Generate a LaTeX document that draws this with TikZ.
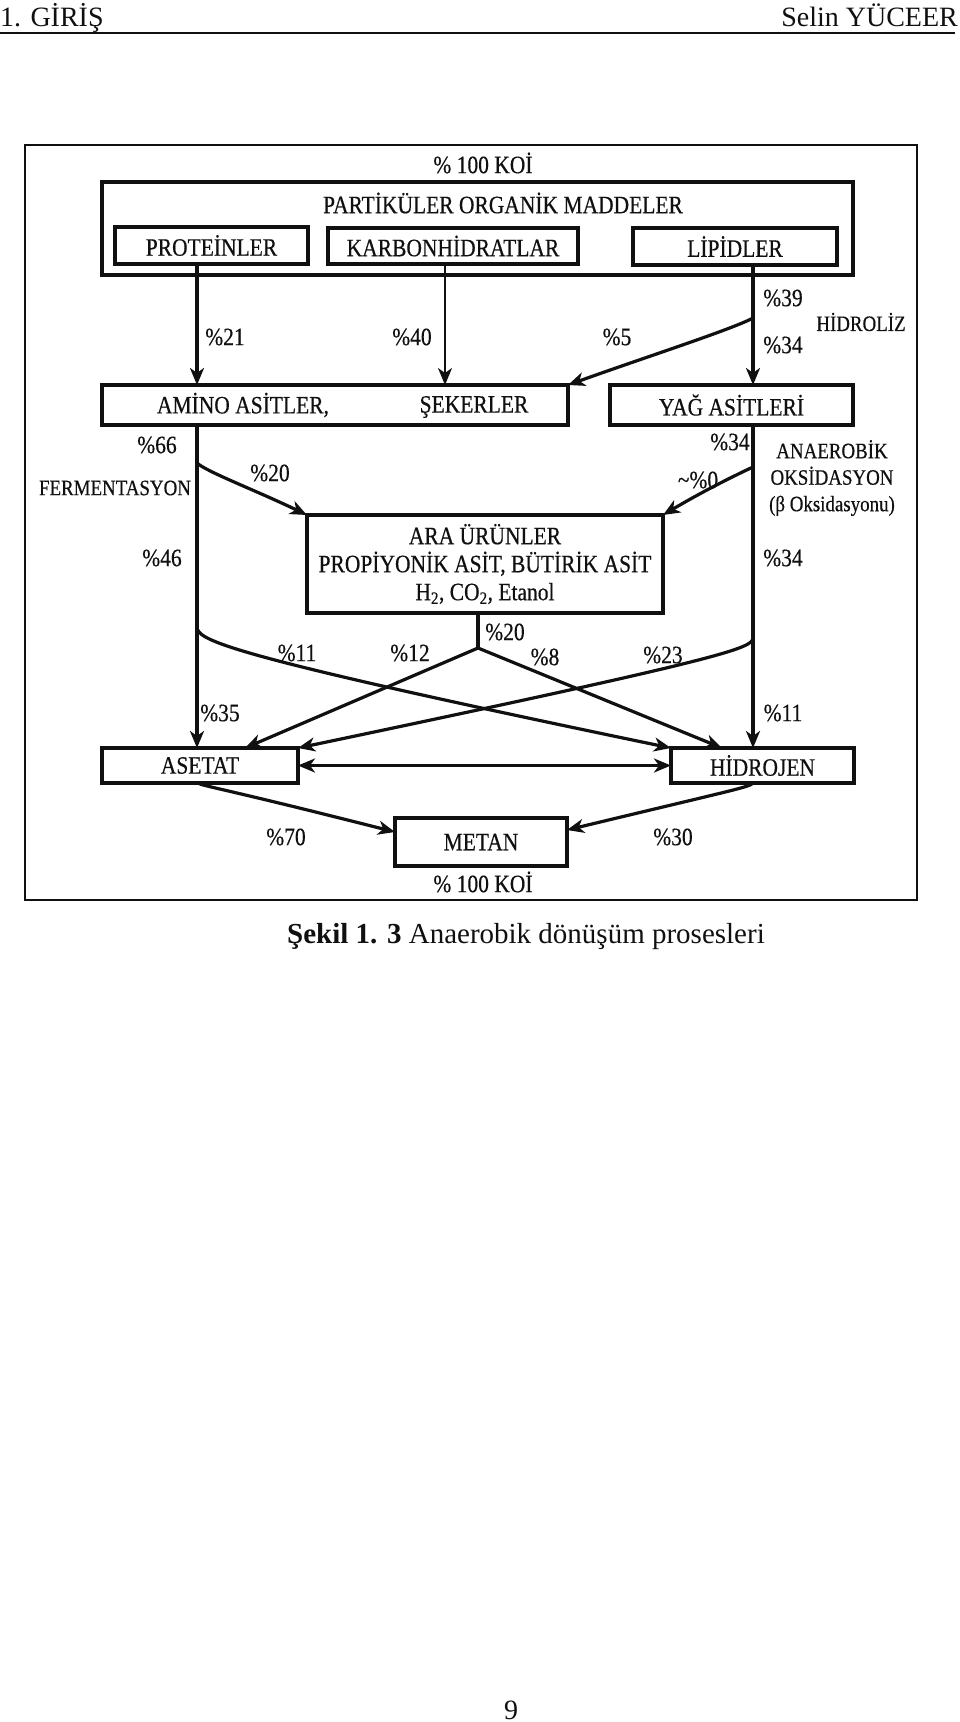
\documentclass[tikz,border=0pt]{standalone}
\usepackage{fontspec}
\setmainfont{Liberation Serif}
\newfontfamily\diagfont[FakeStretch=0.86, FakeBold=0.45]{Liberation Serif}
\usetikzlibrary{arrows.meta}

\definecolor{Ink}{HTML}{101010}

\tikzstyle{page-text}=[font=\fontsize{28}{32}\selectfont, inner sep=0pt, text=Ink]
\tikzstyle{caption-text}=[font=\fontsize{29}{32}\selectfont, inner sep=0pt, text=Ink]
\tikzstyle{diag-text}=[font=\diagfont\fontsize{25}{28}\selectfont, inner sep=0pt, text=Ink]
\tikzstyle{side-text}=[font=\diagfont\fontsize{22}{26.5}\selectfont, inner sep=0pt, text=Ink]
\tikzstyle{diag-box}=[draw=Ink, line width=3.6pt, inner sep=0pt, outer sep=0pt, diag-text]
\tikzstyle{flow}=[draw=Ink, line width=3.2pt, -{Stealth[length=17pt,width=14pt,inset=5pt]}]
\tikzstyle{flow-thin}=[flow, line width=1.6pt]
\tikzstyle{flow-both}=[flow, {Stealth[length=17pt,width=14pt,inset=5pt]}-{Stealth[length=17pt,width=14pt,inset=5pt]}]

\begin{document}
\begin{tikzpicture}[x=1pt, y=-1pt]
  \useasboundingbox (0,0) rectangle (960,1722);
  \fill[white] (0,0) rectangle (960,1722);

  % page head
  \node (head-left) at (0,26) [page-text, anchor=base west] {1. GİRİŞ};
  \node (head-right) at (958,26) [page-text, anchor=base east] {Selin YÜCEER};
  \draw[Ink, line width=1.5pt] (0,33) -- (955,33);

  % frame
  \draw[Ink, line width=2.2pt] (25,145) rectangle (917,900);

  % boxes
  \node (koi-top) at (483,163) [diag-text] {\% 100 KOİ};
  \node (box-partikuler) at (477.5,228.5) [diag-box, minimum width=751pt, minimum height=93pt] {};
  \node (title-partikuler) at (503,203) [diag-text] {PARTİKÜLER ORGANİK MADDELER};
  \node (box-protein) at (211.5,245.5) [diag-box, minimum width=193pt, minimum height=37pt] {PROTEİNLER};
  \node (box-karbon) at (453,246) [diag-box, minimum width=250pt, minimum height=36pt] {KARBONHİDRATLAR};
  \node (box-lipid) at (735,246.5) [diag-box, minimum width=204pt, minimum height=37pt] {LİPİDLER};

  \node (box-amino) at (335,405) [diag-box, minimum width=466pt, minimum height=40pt] {};
  \node (text-amino) at (243,405) [diag-text] {AMİNO ASİTLER,};
  \node (text-seker) at (474,407) [diag-text] {ŞEKERLER};
  \node (box-yag) at (731.5,405) [diag-box, minimum width=243pt, minimum height=40pt] {YAĞ ASİTLERİ};

  \node (box-ara) at (485,564) [diag-box, minimum width=356pt, minimum height=98pt, align=center] {ARA ÜRÜNLER\\PROPİYONİK ASİT, BÜTİRİK ASİT\\H\textsubscript{2}, CO\textsubscript{2}, Etanol};

  \node (box-asetat) at (200,765.5) [diag-box, minimum width=196pt, minimum height=35pt] {ASETAT};
  \node (box-hidrojen) at (762.5,765.5) [diag-box, minimum width=183pt, minimum height=35pt] {HİDROJEN};
  \node (box-metan) at (481,842) [diag-box, minimum width=172pt, minimum height=48pt] {METAN};
  \node (koi-bottom) at (483,882) [diag-text] {\% 100 KOİ};

  % labels
  \node (pct-21) at (225,337) [diag-text] {\%21};
  \node (pct-40) at (412,337) [diag-text] {\%40};
  \node (pct-5) at (617,337) [diag-text] {\%5};
  \node (pct-39) at (783,298) [diag-text] {\%39};
  \node (pct-34a) at (783,345) [diag-text] {\%34};
  \node (hidroliz) at (861,322) [side-text] {HİDROLİZ};
  \node (pct-66) at (157,445) [diag-text] {\%66};
  \node (fermentasyon) at (115,488) [side-text] {FERMENTASYON};
  \node (pct-20a) at (270,473) [diag-text] {\%20};
  \node (pct-34b) at (730,442) [diag-text] {\%34};
  \node (pct-0) at (698,480) [diag-text] {\textasciitilde\%0};
  \node (anaerobik) at (832,478) [side-text, align=center] {ANAEROBİK\\OKSİDASYON\\(β Oksidasyonu)};
  \node (pct-46) at (162,558) [diag-text] {\%46};
  \node (pct-34c) at (783,558) [diag-text] {\%34};
  \node (pct-20b) at (505,632) [diag-text] {\%20};
  \node (pct-11a) at (297,653) [diag-text] {\%11};
  \node (pct-12) at (410,653) [diag-text] {\%12};
  \node (pct-8) at (545,657) [diag-text] {\%8};
  \node (pct-23) at (663,655) [diag-text] {\%23};
  \node (pct-35) at (220,713) [diag-text] {\%35};
  \node (pct-11b) at (783,713) [diag-text] {\%11};
  \node (pct-70) at (286,837) [diag-text] {\%70};
  \node (pct-30) at (673,837) [diag-text] {\%30};

  % split points
  \coordinate (split-lipid) at (753,318);
  \coordinate (split-ferm) at (197,463);
  \coordinate (split-yag) at (753,467);
  \coordinate (split-amino) at (197,627);
  \coordinate (split-yag2) at (753,638);
  \coordinate (split-ara) at (478,648);

  % hidroliz
  \draw[flow] (box-protein.south -| 197,0) -- (box-amino.north -| 197,0);
  \draw[flow-thin] (box-karbon.south -| 445,0) -- (box-amino.north -| 445,0);
  \draw[flow] (box-lipid.south -| 753,0) -- (box-yag.north -| 753,0);
  \draw[flow] (split-lipid) .. controls (733,329) and (640,359) .. (box-amino.north east);

  % fermentasyon / oksidasyon
  \draw[flow] (box-amino.south -| 197,0) -- (box-asetat.north -| 197,0);
  \draw[flow] (split-ferm) .. controls (207,472) and (255,490) .. (box-ara.north west);
  \draw[flow] (box-yag.south -| 753,0) -- (box-hidrojen.north -| 753,0);
  \draw[flow] (split-yag) .. controls (738,474) and (705,490) .. (box-ara.north east);
  \draw[flow] (split-amino) .. controls (198,640) and (218,654) .. (box-hidrojen.north west);
  \draw[flow] (split-yag2) .. controls (752,648) and (732,657) .. (box-asetat.north east);
  \draw[Ink, line width=3.2pt] (box-ara.south -| split-ara) -- (split-ara);
  \draw[flow] (split-ara) -- (box-asetat.north -| 245,0);
  \draw[flow] (split-ara) -- (box-hidrojen.north -| 722,0);
  \draw[flow-both] (box-asetat.east) -- (box-hidrojen.west);

  % metan
  \draw[flow] (box-asetat.south -| 198,0) .. controls (202,786) and (222,788) .. ([yshift=10pt]box-metan.west);
  \draw[flow] (box-hidrojen.south -| 753,0) .. controls (750,787) and (735,789.5) .. ([yshift=12pt]box-metan.east);

  \node (caption) at (526,937) [caption-text] {\textbf{Şekil 1. 3} Anaerobik dönüşüm prosesleri};
  \node (page-number) at (511,1710) [page-text] {9};
\end{tikzpicture}
\end{document}
